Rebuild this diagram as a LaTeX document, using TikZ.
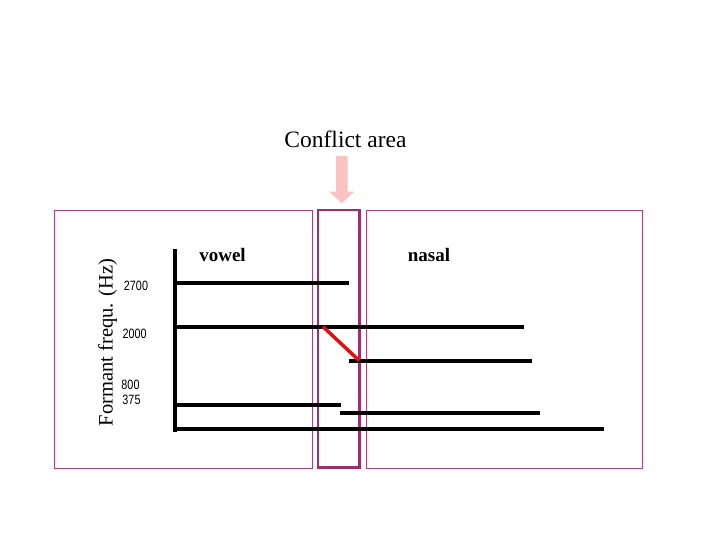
\documentclass[tikz,border=0pt]{standalone}
\usepackage{fontspec}
\setmainfont{Liberation Serif}
\newfontfamily\ticksans{Liberation Sans}
\definecolor{boxc}{HTML}{B0407E}
\definecolor{confc}{HTML}{9C2F6C}
\definecolor{arrc}{HTML}{F9C3C3}
\definecolor{redl}{HTML}{E01010}
\begin{document}
\begin{tikzpicture}[x=1pt,y=-1pt,
  panel/.style={draw=boxc,line width=1pt},
  confbox/.style={draw=confc,line width=2.2pt},
  formant/.style={line width=4pt,line cap=butt},
  ticklab/.style={font=\ticksans\fontsize{13.5}{13.5}\selectfont,inner sep=0pt,xscale=0.8},
  headlab/.style={font=\bfseries\fontsize{19}{19}\selectfont,inner sep=0pt}]
\useasboundingbox (0,0) rectangle (720,540);
% panels
\draw[panel] (54.3,210.7) rectangle (312.3,468.3);
\draw[panel] (366.7,210.7) rectangle (642.7,468.3);
\draw[confbox] (318,210) rectangle (359.5,467.5);
% arrow
\fill[arrc] (336,156) -- (347.5,156) -- (347.5,191.7) -- (354,191.7) -- (341.75,203.3) -- (329.5,191.7) -- (336,191.7) -- cycle;
\node[font=\fontsize{23.5}{23.5}\selectfont,inner sep=0pt] (title) at (345.5,139) {Conflict area};
% axis
\coordinate (ax0) at (175,249);
\coordinate (ax1) at (175,432);
\draw[formant] (ax0) -- (ax1);
% formant lines
\coordinate (a1) at (173,282.7); \coordinate (a2) at (349,282.7);
\coordinate (b1) at (173,326.7); \coordinate (b2) at (524,326.7);
\coordinate (c1) at (349.3,360.7); \coordinate (c2) at (532,360.7);
\coordinate (d1) at (173,405); \coordinate (d2) at (341,405);
\coordinate (e1) at (340,412.7); \coordinate (e2) at (540,412.7);
\coordinate (f1) at (173,428.7); \coordinate (f2) at (604,428.7);
\draw[formant] (a1) -- (a2);
\draw[formant] (b1) -- (b2);
\draw[formant] (c1) -- (c2);
\draw[formant] (d1) -- (d2);
\draw[formant] (e1) -- (e2);
\draw[formant] (f1) -- (f2);
\coordinate (r1) at (323,326.7);
\coordinate (r2) at (359.3,360.7);
\draw[redl,line width=3.5pt] (r1) -- (r2);
% labels
\node[headlab] (vowel) at (222.5,255) {vowel};
\node[headlab] (nasal) at (429,255) {nasal};
\node[ticklab] (t2700) at (136,285.5) {2700};
\node[ticklab] (t2000) at (134.7,333.5) {2000};
\node[ticklab] (t800) at (130.5,384.8) {800};
\node[ticklab] (t375) at (131.5,399.5) {375};
\node[font=\fontsize{20.5}{20.5}\selectfont,inner sep=0pt,rotate=90] (ylab) at (107.5,342.5) {Formant frequ. (Hz)};
\end{tikzpicture}
\end{document}
